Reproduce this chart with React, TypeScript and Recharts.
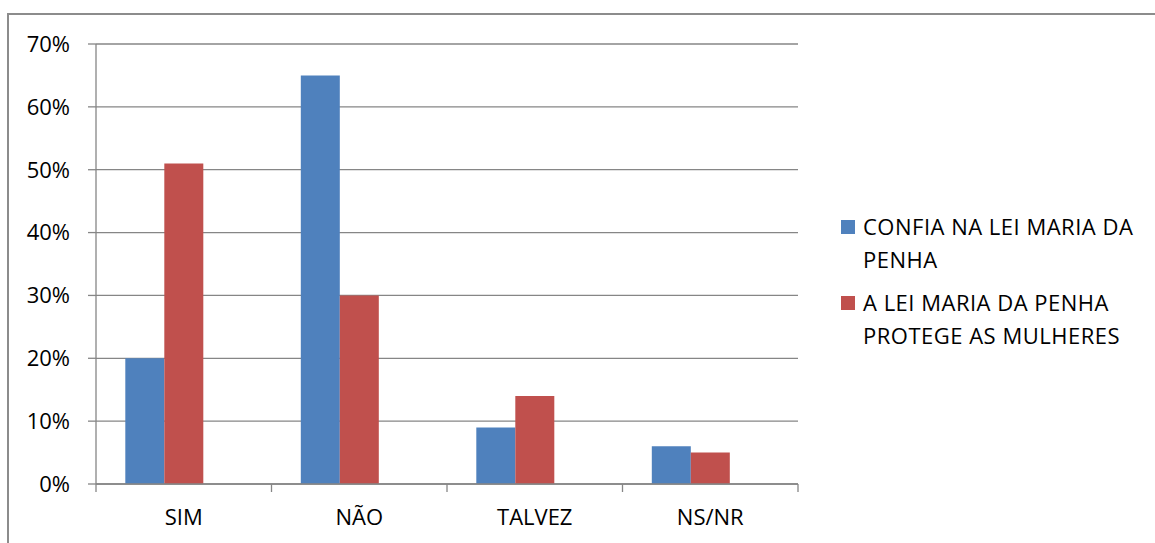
import { BarChart, Bar, XAxis, YAxis, CartesianGrid } from 'recharts';

const categories = ['SIM', 'NÃO', 'TALVEZ', 'NS/NR'];
const confia = [0.2, 0.65, 0.09, 0.06];
const protege = [0.51, 0.3, 0.14, 0.05];
// empty third slot, the original chart leaves room for it
const spacer = [0, 0, 0, 0];
const yTicks = [0, 0.1, 0.2, 0.3, 0.4, 0.5, 0.6, 0.7];

const seriesNames = [
  ['CONFIA NA LEI MARIA DA', 'PENHA'],
  ['A LEI MARIA DA PENHA', 'PROTEGE AS MULHERES'],
];
const colors = ['#4F81BD', '#C0504D'];

const data = categories.map((c, i) => ({ cat: c, confia: confia[i], protege: protege[i], spacer: spacer[i] }));

const AXIS = '#868686';
const FONT = '"Open Sans", sans-serif';
const BAND = (1155 - 96 - 357) / categories.length;

const XTick = (props: any) => {
  const { x, y, payload, index } = props;
  const left = x - BAND / 2;
  return (
    <g>
      <line x1={left} y1={y - 8} x2={left} y2={y} stroke={AXIS} strokeWidth={1.3} />
      {index === categories.length - 1 && (
        <line x1={x + BAND / 2} y1={y - 8} x2={x + BAND / 2} y2={y} stroke={AXIS} strokeWidth={1.3} />
      )}
      <text x={x} y={y + 33} textAnchor="middle" fill="#000" fontSize={22} fontFamily={FONT}>
        {payload.value}
      </text>
    </g>
  );
};

const LegendBox = () => {
  const tops = [210, 286];
  return (
    <div style={{ position: 'absolute', left: 841, top: 0 }}>
      {seriesNames.map((lines, i) => (
        <div key={i} style={{ position: 'absolute', left: 0, top: tops[i], fontFamily: FONT, fontSize: 22, letterSpacing: 0.5, lineHeight: '33px', color: '#000' }}>
          <span style={{ position: 'absolute', left: 0, top: 10, width: 14, height: 14, background: colors[i] }} />
          <div style={{ marginLeft: 22, whiteSpace: 'nowrap' }}>
            {lines.map((l) => (
              <div key={l}>{l}</div>
            ))}
          </div>
        </div>
      ))}
    </div>
  );
};

export default function App() {
  return (
    <div style={{ position: 'fixed', left: 0, top: 0, width: 1155, height: 543, background: '#fff', overflow: 'hidden' }}>
      <div style={{ position: 'absolute', left: 7, top: 13, width: 1160, height: 540, border: '2px solid #8c8c8c', boxSizing: 'border-box' }} />
      <BarChart
        width={1155}
        height={543}
        data={data}
        margin={{ top: 44, right: 357, bottom: 30, left: 0 }}
        barCategoryGap="16.7%"
        barGap={0}
      >
        <CartesianGrid vertical={false} stroke={AXIS} strokeWidth={1.3} />
        <XAxis
          dataKey="cat"
          height={29}
          axisLine={{ stroke: AXIS, strokeWidth: 1.3 }}
          tickLine={false}
          tick={<XTick />}
          interval={0}
        />
        <YAxis
          width={96}
          domain={[0, 0.7]}
          ticks={yTicks}
          tickFormatter={(v: number) => `${Math.round(v * 100)}%`}
          axisLine={{ stroke: AXIS, strokeWidth: 1.3 }}
          tickLine={{ stroke: AXIS, strokeWidth: 1.3 }}
          tickSize={8}
          tickMargin={18}
          tick={{ fill: '#000', fontSize: 22, fontFamily: FONT }}
        />
        <Bar dataKey="confia" fill={colors[0]} isAnimationActive={false} />
        <Bar dataKey="protege" fill={colors[1]} isAnimationActive={false} />
        <Bar dataKey="spacer" fill="none" isAnimationActive={false} />
      </BarChart>
      <LegendBox />
    </div>
  );
}
